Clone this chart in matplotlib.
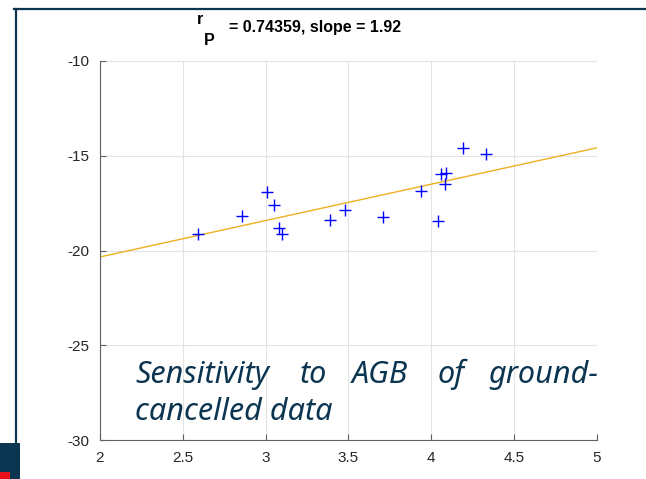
import numpy as np
import matplotlib.pyplot as plt

# AGB sensitivity vs. ground-cancelled backscatter
agb_x = [2.59, 2.86, 3.01, 3.05, 3.08, 3.10, 3.39, 3.48,
         3.71, 3.94, 4.04, 4.06, 4.09, 4.08, 4.19, 4.33]
sens_y = [-19.14, -18.18, -16.90, -17.60, -18.83, -19.11, -18.39, -17.86,
          -18.21, -16.86, -18.44, -15.98, -15.89, -16.50, -14.61, -14.92]
fit_slope = 1.92
fit_icpt = -24.18
r_pearson = 0.74359

x_ticks = [2, 2.5, 3, 3.5, 4, 4.5, 5]
x_labels = ['2', '2.5', '3', '3.5', '4', '4.5', '5']
y_ticks = [-30, -25, -20, -15, -10]

overlay_line1 = 'Sensitivity to AGB of ground-'
overlay_line2 = 'cancelled data'
navy = '#0b3550'

plt.rcParams['font.family'] = ['Liberation Sans', 'DejaVu Sans']
plt.rcParams['axes.unicode_minus'] = False
fig = plt.figure(figsize=(6.46, 4.79), dpi=100)
ax = fig.add_axes([100/646, 39/479, 497/646, 379/479])

# fit line
xf = np.array([2, 5])
ax.plot(xf, fit_slope*xf + fit_icpt, '-', color='#edb120', lw=1, zorder=2)
ax.plot(agb_x, sens_y, '+', color='#0000ff', ms=9, mew=1, zorder=3)

ax.set_xlim(2, 5)
ax.set_ylim(-30, -10)
ax.set_xticks(x_ticks)
ax.set_xticklabels(x_labels)
ax.set_yticks(y_ticks)
ax.grid(True, color='#e3e3e3', lw=0.8)
ax.set_axisbelow(True)
for s in ['top', 'right']:
    ax.spines[s].set_visible(False)
for s in ['left', 'bottom']:
    ax.spines[s].set_color('#606060')
ax.tick_params(direction='in', length=4, color='#606060', labelsize=11,
               labelcolor='#262626', pad=8)

# title with MATLAB-style sub/superscript look
fig.text(197/646, 1 - 24/479, 'r', fontsize=11.5, fontweight='bold', ha='left', va='baseline')
fig.text(204/646, 1 - 45/479, 'P', fontsize=11.5, fontweight='bold', ha='left', va='baseline')
fig.text(229/646, 1 - 32/479, '= %.5f, slope = %.2f' % (r_pearson, fit_slope),
         fontsize=11.5, fontweight='bold', ha='left', va='baseline')

# justified overlay caption
word_x = [135, 300, 352, 438, 488]
for w, xp in zip(overlay_line1.split(), word_x):
    fig.text(xp/646, 1 - 383/479, w, fontsize=22, style='italic', color=navy,
             family='Noto Sans', fontweight='semibold', ha='left', va='baseline')
fig.text(135/646, 1 - 420/479, overlay_line2, fontsize=22, style='italic', color=navy,
         family='Noto Sans', fontweight='semibold', ha='left', va='baseline')

# slide frame
fig.add_artist(plt.Line2D([14/646, 1], [1 - 9/479, 1 - 9/479], color=navy, lw=1.6))
fig.add_artist(plt.Line2D([16/646, 16/646], [1 - 9/479, 36/479], color=navy, lw=1.6))
fig.add_artist(plt.Rectangle((0, 0), 20/646, 36/479, color=navy, lw=0))
fig.add_artist(plt.Rectangle((0, 0), 10/646, 7/479, color='#e8101a', lw=0))

fig.savefig('out.png', dpi=100)
